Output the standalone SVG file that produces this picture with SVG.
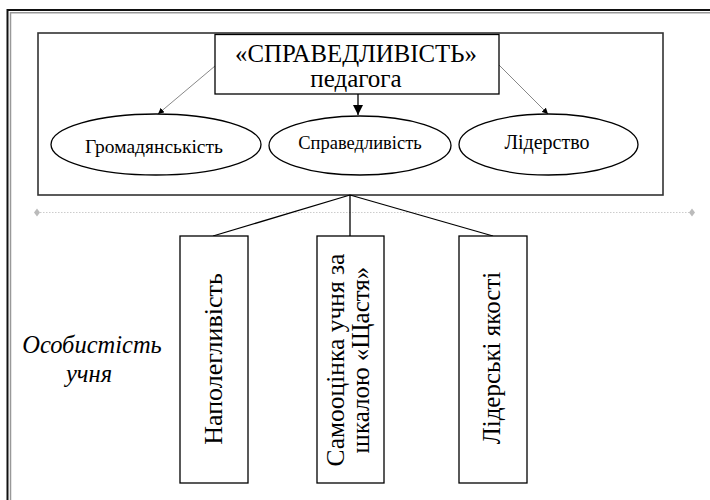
<svg xmlns="http://www.w3.org/2000/svg" width="710" height="500" viewBox="0 0 710 500">
<style>
.t{font-family:"Liberation Serif","DejaVu Serif","Noto Serif",serif;fill:#000}
.box{fill:#fff;stroke:#000;stroke-width:1.3}
.ell{fill:#fff;stroke:#000;stroke-width:1.3}
</style>
<defs>
<marker id="ah" viewBox="0 0 10 10" refX="10" refY="5" markerWidth="6" markerHeight="6" orient="auto" markerUnits="userSpaceOnUse"><path d="M0,0 L10,5 L0,10 z" fill="#000"/></marker>
<marker id="ahb" viewBox="0 0 10 10" refX="10" refY="5" markerWidth="10" markerHeight="10" orient="auto" markerUnits="userSpaceOnUse"><path d="M0,0 L10,5 L0,10 z" fill="#000"/></marker>
</defs>
<rect width="710" height="500" fill="#fff"/>
<g id="frame">
<path d="M7.5,500 V10 H710" fill="none" stroke="#111" stroke-width="2"/>
<path d="M10.5,500 V12.8 H710" fill="none" stroke="#999" stroke-width="1.5"/>
</g>
<g id="guide">
<line x1="37" y1="212.5" x2="692" y2="212.5" stroke="#ccc" stroke-width="1" stroke-dasharray="1.5,1.5"/>
<path d="M37,208.5 L40,212.5 L37,216.5 L34,212.5 z" fill="#bbb"/>
<path d="M692,208.5 L695,212.5 L692,216.5 L689,212.5 z" fill="#bbb"/>
</g>
<g id="teacher-box">
<rect x="38" y="33" width="625" height="162" fill="none" stroke="#333" stroke-width="1.6"/>
</g>
<g id="connectors">
<line x1="215" y1="66" x2="158" y2="114" stroke="#555" stroke-width="0.7" marker-end="url(#ah)"/>
<line x1="499" y1="65" x2="548" y2="114" stroke="#555" stroke-width="0.7" marker-end="url(#ah)"/>
<line x1="358" y1="94" x2="358" y2="115" stroke="#000" stroke-width="1.3" marker-end="url(#ahb)"/>
<line x1="350" y1="195" x2="213" y2="236" stroke="#000" stroke-width="1.3"/>
<line x1="350" y1="195" x2="350" y2="236" stroke="#000" stroke-width="1.3"/>
<line x1="350" y1="195" x2="493" y2="236" stroke="#000" stroke-width="1.3"/>
</g>
<g id="title">
<rect class="box" x="215" y="34.5" width="284" height="59.5"/>
<text class="t" x="356" y="62" text-anchor="middle" font-size="24.8">«СПРАВЕДЛИВІСТЬ»</text>
<text class="t" x="356" y="87" text-anchor="middle" font-size="25">педагога</text>
</g>
<g id="n-civic">
<ellipse class="ell" cx="156" cy="144.5" rx="105" ry="30.5"/>
<text class="t" x="154" y="153" text-anchor="middle" font-size="19.5">Громадянськість</text>
</g>
<g id="n-justice">
<ellipse class="ell" cx="360" cy="145.5" rx="91" ry="29.5"/>
<text class="t" x="360" y="148.5" text-anchor="middle" font-size="18.5">Справедливість</text>
</g>
<g id="n-leader">
<ellipse class="ell" cx="548.5" cy="144.5" rx="89.5" ry="30.5"/>
<text class="t" x="547" y="149" text-anchor="middle" font-size="20">Лідерство</text>
</g>
<g id="n-persist">
<rect class="box" x="180" y="236" width="68" height="247"/>
<text class="t" transform="translate(222,359) rotate(-90)" text-anchor="middle" font-size="26">Наполегливість</text>
</g>
<g id="n-self">
<rect class="box" x="317" y="236" width="67" height="247"/>
<text class="t" transform="translate(344,360) rotate(-90)" text-anchor="middle" font-size="25.5">Самооцінка учня за</text>
<text class="t" transform="translate(369,360) rotate(-90)" text-anchor="middle" font-size="25">шкалою «Щастя»</text>
</g>
<g id="n-leadq">
<rect class="box" x="459" y="236" width="68" height="247"/>
<text class="t" transform="translate(500,358) rotate(-90)" text-anchor="middle" font-size="25">Лідерські якості</text>
</g>
<g id="label">
<text class="t" x="92" y="353" text-anchor="middle" font-size="24.5" font-style="italic">Особистість</text>
<text class="t" x="89" y="382" text-anchor="middle" font-size="24.5" font-style="italic">учня</text>
</g>
</svg>
